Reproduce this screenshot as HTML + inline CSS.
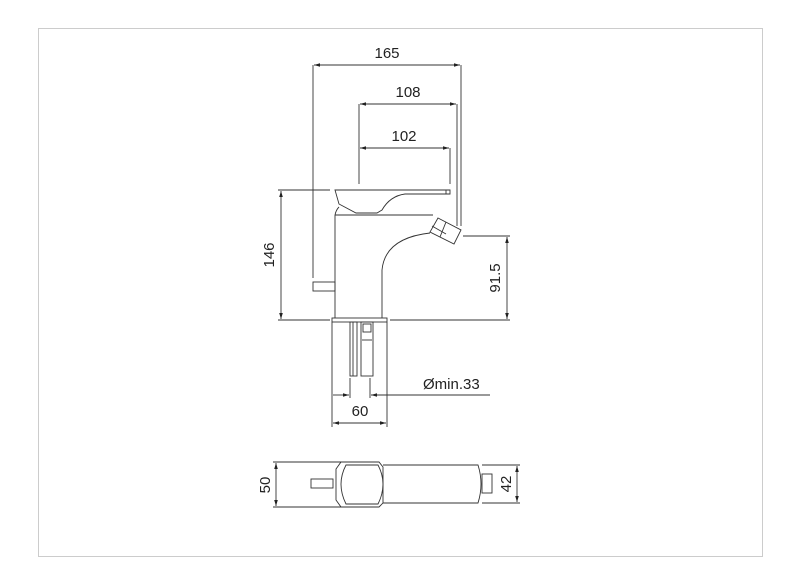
<!DOCTYPE html>
<html><head><style>html,body{margin:0;padding:0;background:#fff}svg{display:block}</style></head><body>
<svg width="800" height="566" viewBox="0 0 800 566" xmlns="http://www.w3.org/2000/svg" font-family="Liberation Sans, sans-serif">
<defs><marker id="a" viewBox="0 0 10 6" refX="10" refY="3" markerWidth="8" markerHeight="4" orient="auto-start-reverse"><path d="M0,0L10,3L0,6z" fill="#222"/></marker></defs>
<rect x="38.5" y="28.5" width="724" height="528" fill="none" stroke="#ccc"/>
<g stroke="#333" stroke-width="0.9" fill="none">
<line x1="313" y1="65" x2="313" y2="278"/><line x1="461" y1="65" x2="461" y2="226"/>
<line x1="314" y1="65" x2="460" y2="65" marker-start="url(#a)" marker-end="url(#a)"/>
<line x1="359" y1="104" x2="359" y2="184"/><line x1="457" y1="104" x2="457" y2="226"/>
<line x1="360" y1="104" x2="456" y2="104" marker-start="url(#a)" marker-end="url(#a)"/>
<line x1="450" y1="148" x2="450" y2="184"/>
<line x1="360" y1="148" x2="449" y2="148" marker-start="url(#a)" marker-end="url(#a)"/>
<line x1="278" y1="190" x2="330" y2="190"/><line x1="278" y1="320" x2="330" y2="320"/>
<line x1="281" y1="191" x2="281" y2="319" marker-start="url(#a)" marker-end="url(#a)"/>
<line x1="463" y1="236" x2="510" y2="236"/><line x1="390" y1="320" x2="510" y2="320"/>
<line x1="507" y1="237" x2="507" y2="319" marker-start="url(#a)" marker-end="url(#a)"/>
<path d="M335,190 L450,190 L450,194 L405,194 Q390,196 382,210 L377,213 L356,213 L339,204 Z"/>
<path d="M339,207 Q336,210 335,215"/>
<line x1="446" y1="190" x2="446" y2="194"/>
<path d="M335,215 L335,318 M335,215 L433,215 M382,318 L382,270 Q385,238 430,233"/>
<polygon points="438,218 461,230 454,244 430,232"/>
<line x1="432" y1="226" x2="446" y2="234" />
<line x1="446" y1="222" x2="440" y2="237"/>
<rect x="313" y="282" width="22" height="9"/>
<rect x="332" y="318" width="55" height="4"/>
<rect x="350" y="322" width="7" height="54"/><line x1="353" y1="322" x2="353" y2="376"/>
<rect x="361" y="322" width="12" height="54"/><rect x="363" y="324" width="8" height="8"/><line x1="362" y1="340" x2="372" y2="340"/>
<line x1="350" y1="378" x2="350" y2="398"/><line x1="370" y1="378" x2="370" y2="398"/>
<line x1="333" y1="395" x2="349" y2="395" marker-end="url(#a)"/>
<line x1="490" y1="395" x2="371" y2="395" marker-end="url(#a)"/>
<line x1="332" y1="322" x2="332" y2="427"/><line x1="387" y1="322" x2="387" y2="427"/>
<line x1="333" y1="423" x2="386" y2="423" marker-start="url(#a)" marker-end="url(#a)"/>
<line x1="273" y1="462" x2="345" y2="462"/><line x1="273" y1="507" x2="345" y2="507"/>
<line x1="276" y1="463" x2="276" y2="506" marker-start="url(#a)" marker-end="url(#a)"/>
<rect x="311" y="479" width="22" height="9"/>
<path d="M341,462 L379,462 L383,467 L383,503 L379,507 L341,507 L336,500 L336,469 Z"/>
<path d="M346,465 L378,465 Q388,484 378,504 L346,504 Q336,484 346,465 Z"/>
<path d="M383,465 L478,465 Q484,484 478,503 L383,503"/>
<rect x="482" y="474" width="10" height="19"/>
<line x1="482" y1="465" x2="520" y2="465"/><line x1="482" y1="503" x2="520" y2="503"/>
<line x1="517" y1="466" x2="517" y2="502" marker-start="url(#a)" marker-end="url(#a)"/>
</g>
<g fill="#222" font-size="15">
<text x="387" y="58" text-anchor="middle">165</text>
<text x="408" y="97" text-anchor="middle">108</text>
<text x="404" y="141" text-anchor="middle">102</text>
<text transform="translate(274,255) rotate(-90)" text-anchor="middle">146</text>
<text transform="translate(500,278) rotate(-90)" text-anchor="middle">91.5</text>
<text x="423" y="389">Ømin.33</text>
<text x="360" y="416" text-anchor="middle">60</text>
<text transform="translate(270,485) rotate(-90)" text-anchor="middle">50</text>
<text transform="translate(511,484) rotate(-90)" text-anchor="middle">42</text>
</g>
</svg>
</body></html>
